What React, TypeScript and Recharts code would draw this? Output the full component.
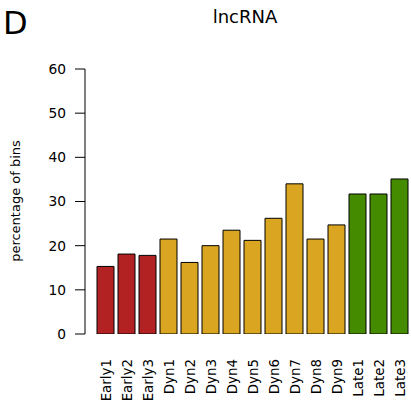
import React from "react";
import { BarChart, Bar, XAxis, YAxis, Cell } from "recharts";

const categories = [
  "Early1", "Early2", "Early3",
  "Dyn1", "Dyn2", "Dyn3", "Dyn4", "Dyn5", "Dyn6", "Dyn7", "Dyn8", "Dyn9",
  "Late1", "Late2", "Late3",
];
const percentages = [
  15.3, 18.1, 17.8,
  21.5, 16.2, 20.0, 23.5, 21.2, 26.2, 34.0, 21.5, 24.7,
  31.7, 31.7, 35.1,
];
const groups = [
  "Early", "Early", "Early",
  "Dyn", "Dyn", "Dyn", "Dyn", "Dyn", "Dyn", "Dyn", "Dyn", "Dyn",
  "Late", "Late", "Late",
];
const yTicks = [0, 10, 20, 30, 40, 50, 60];
const groupColors: Record<string, string> = {
  Early: "#B22222",
  Dyn: "#DAA520",
  Late: "#458B00",
};

const data = categories.map((c, i) => ({ name: c, value: percentages[i], group: groups[i] }));

const FONT = "'DejaVu Sans', sans-serif";

const XTick = (props: any) => {
  const { x, payload } = props;
  const ty = 359;
  return (
    <text
      x={x}
      y={ty}
      dy={5}
      transform={`rotate(-90 ${x} ${ty})`}
      textAnchor="end"
      fontSize={13.4}
      fontFamily={FONT}
      fill="#000"
    >
      {payload.value}
    </text>
  );
};

export default function App() {
  return (
    <div style={{ position: "absolute", left: 0, top: 0, width: 411, height: 403, overflow: "hidden", background: "#fff" }}>
      <BarChart
        width={411}
        height={403}
        data={data}
        margin={{ top: 69, right: 1, bottom: 9, left: 0 }}
      >
        <text x={3} y={34} fontSize={32} fontFamily={FONT} fill="#000">D</text>
        <text x={245} y={23} fontSize={18} fontFamily={FONT} fill="#000" textAnchor="middle">lncRNA</text>
        <text
          x={20}
          y={201}
          transform="rotate(-90 20 201)"
          fontSize={13}
          fontFamily={FONT}
          fill="#000"
          textAnchor="middle"
        >
          percentage of bins
        </text>
        <XAxis
          dataKey="name"
          height={60}
          axisLine={false}
          tickLine={false}
          interval={0}
          padding={{ left: 10, right: 0 }}
          tick={<XTick />}
        />
        <YAxis
          width={85}
          domain={[0, 60]}
          ticks={yTicks}
          allowDataOverflow
          tickSize={10}
          tickMargin={9}
          axisLine={{ stroke: "#000", strokeWidth: 1 }}
          tickLine={{ stroke: "#000", strokeWidth: 1 }}
          tick={{ fill: "#000", fontSize: 13.8, fontFamily: FONT }}
        />
        <Bar dataKey="value" barSize={17} stroke="#000" strokeWidth={1} isAnimationActive={false}>
          {data.map((d, i) => (
            <Cell key={i} fill={groupColors[d.group]} />
          ))}
        </Bar>
      </BarChart>
    </div>
  );
}
